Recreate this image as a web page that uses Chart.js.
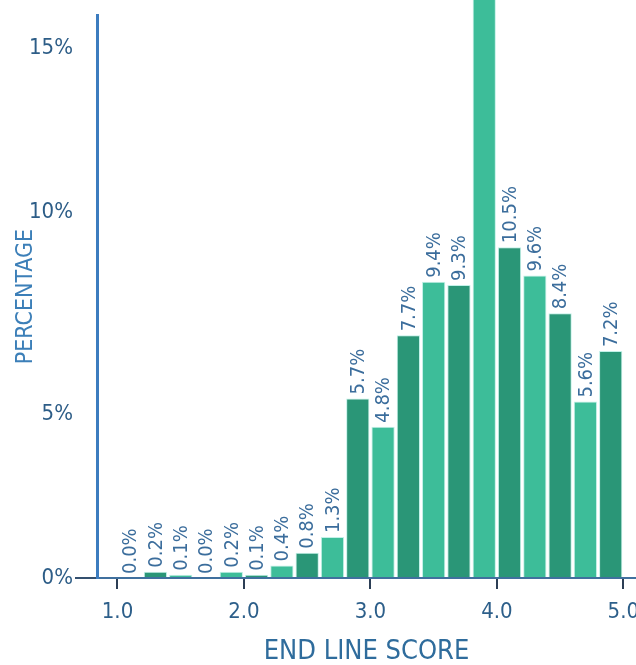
<!DOCTYPE html>
<html>
<head>
<meta charset="utf-8">
<script src="https://cdn.jsdelivr.net/npm/chart.js@4/dist/chart.umd.min.js"></script>
<style>
  html, body { margin: 0; padding: 0; background: #ffffff; }
  #wrap { width: 636px; height: 665px; }
</style>
</head>
<body>
<div id="wrap"><canvas id="hist" width="636" height="665"></canvas></div>
<script>
// Score bins (centre of each 0.2-wide bin) and the share of lines in each bin (%)
const binCenters = [1.1, 1.3, 1.5, 1.7, 1.9, 2.1, 2.3, 2.5, 2.7, 2.9,
                    3.1, 3.3, 3.5, 3.7, 3.9, 4.1, 4.3, 4.5, 4.7, 4.9];
const shares = [0.0, 0.2, 0.1, 0.0, 0.2, 0.1, 0.4, 0.8, 1.3, 5.7,
                4.8, 7.7, 9.4, 9.3, 18.7, 10.5, 9.6, 8.4, 5.6, 7.2];

// Axis ticks
const scoreTicks = [1, 2, 3, 4, 5];
const pctTickLabels = ['0%', '5%', '10%', '15%'];
const pctTickAt = [0, 5.2, 11.6, 16.8];

const FONT = '"Liberation Sans Narrow", "DejaVu Sans Condensed", "Roboto", sans-serif';
const LIGHT = '#3dbd99';
const DARK = '#2a9677';

// Vertical value labels above each bar
const barValueLabels = {
  id: 'barValueLabels',
  afterDatasetsDraw(chart) {
    const ctx = chart.ctx;
    const meta = chart.getDatasetMeta(0);
    ctx.save();
    ctx.font = '20px ' + FONT;
    ctx.fillStyle = '#3b6d9c';
    ctx.textAlign = 'left';
    ctx.textBaseline = 'middle';
    meta.data.forEach((bar, i) => {
      ctx.save();
      ctx.translate(bar.x, bar.y - 4);
      ctx.rotate(-Math.PI / 2);
      ctx.fillText(shares[i].toFixed(1) + '%', 0, 1);
      ctx.restore();
    });
    ctx.restore();
  }
};

new Chart(document.getElementById('hist'), {
  type: 'bar',
  data: {
    datasets: [{
      data: binCenters.map((x, i) => ({ x: x, y: shares[i] })),
      backgroundColor: shares.map((_, i) => (i % 2 === 0 ? LIGHT : DARK)),
      borderColor: '#c2f1e8',
      borderWidth: 1,
      borderSkipped: 'bottom',
      barPercentage: 0.92,
      categoryPercentage: 1.0,
      clip: false
    }]
  },
  options: {
    responsive: false,
    animation: false,
    devicePixelRatio: 1,
    layout: { padding: { top: 11, left: 0, right: 0, bottom: 0 } },
    plugins: {
      legend: { display: false },
      tooltip: { enabled: false }
    },
    scales: {
      x: {
        type: 'linear',
        offset: false,
        min: 0.838,
        max: 5.1,
        afterBuildTicks: s => { s.ticks = scoreTicks.map(v => ({ value: v })); },
        afterFit: s => { s.height = 87; s.paddingRight = 0; s.paddingLeft = 0; },
        ticks: {
          autoSkip: false,
          maxRotation: 0,
          padding: 10,
          color: '#2d5f8a',
          font: { family: FONT, size: 22 },
          callback: v => Number(v).toFixed(1)
        },
        grid: {
          offset: false,
          drawOnChartArea: false,
          drawTicks: true,
          tickLength: 11,
          color: '#2c3e55',
          lineWidth: 2
        },
        border: { color: '#40709e', width: 2 },
        title: {
          display: true,
          text: 'END LINE SCORE',
          color: '#2f6c9c',
          font: { family: FONT, size: 27, lineHeight: 1.0 },
          padding: { top: 0, bottom: 0 }
        }
      },
      y: {
        min: 0,
        max: 17.86,
        afterBuildTicks: s => { s.ticks = pctTickAt.map(v => ({ value: v })); },
        afterFit: s => { s.width = 97; },
        ticks: {
          padding: 2,
          color: '#2d5d87',
          font: { family: FONT, size: 22 },
          callback: (v, i) => pctTickLabels[i]
        },
        grid: {
          drawOnChartArea: false,
          drawTicks: true,
          tickLength: 22,
          lineWidth: 2,
          color: c => (c.index === 0 ? '#34506f' : 'rgba(0,0,0,0)')
        },
        border: { color: '#3c7cbf', width: 3 },
        title: {
          display: true,
          text: 'PERCENTAGE',
          color: '#3c7fb8',
          font: { family: FONT, size: 23 },
          padding: { top: 12, bottom: 0 }
        }
      }
    }
  },
  plugins: [barValueLabels]
});
</script>
</body>
</html>
